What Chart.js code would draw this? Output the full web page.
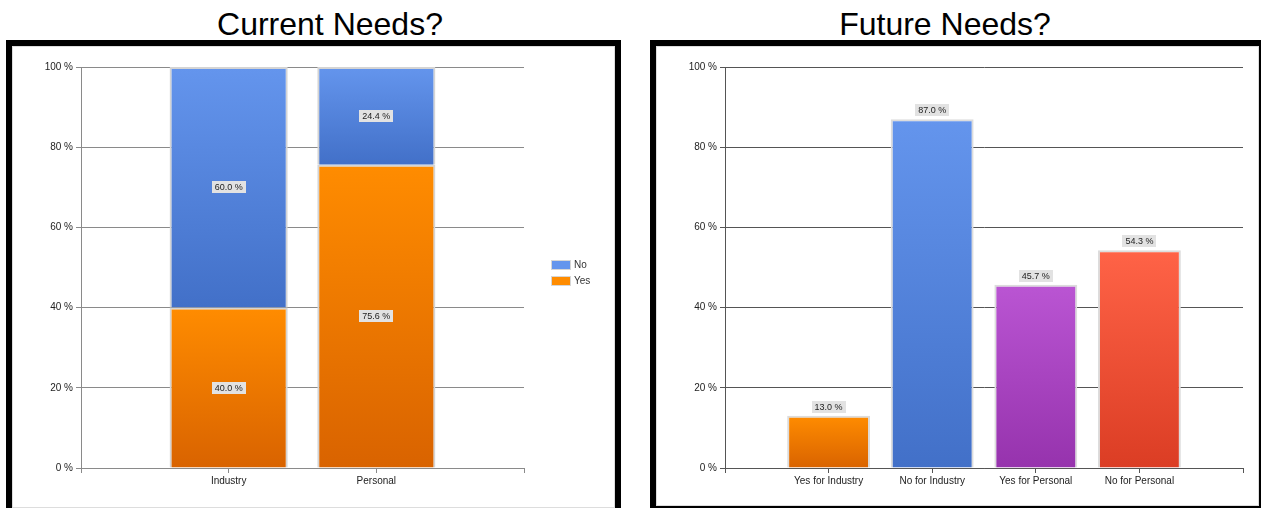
<!DOCTYPE html>
<html>
<head>
<meta charset="utf-8">
<script src="https://cdn.jsdelivr.net/npm/chart.js@4.4.0/dist/chart.umd.min.js"></script>
<style>
  html, body { margin: 0; padding: 0; background: #fff; overflow: hidden; }
  body { width: 1261px; height: 508px; position: relative; font-family: "Liberation Sans", Arial, sans-serif; }
  .title { position: absolute; top: 8px; font-size: 32px; line-height: 32px; color: #000; text-align: center; width: 400px; }
  .frame { position: absolute; border: 6px solid #000; box-sizing: border-box; }
  .inner { position: absolute; border: 1px solid #ddd; box-sizing: border-box; }
  canvas { position: absolute; }
</style>
</head>
<body>
<div class="title" style="left:130px">Current Needs?</div>
<div class="title" style="left:745px">Future Needs?</div>
<div class="frame" style="left:6px; top:40px; width:615px; height:480px"></div>
<div class="frame" style="left:650px; top:40px; width:615px; height:472px"></div>
<div class="inner" style="left:12px; top:46px; width:603px; height:462px"></div>
<div class="inner" style="left:656px; top:46px; width:603px; height:460px"></div>
<div style="position:absolute; left:12px; top:46px; width:603px; height:462px"><canvas id="current"></canvas></div>
<div style="position:absolute; left:656px; top:46px; width:603px; height:462px"><canvas id="future"></canvas></div>
<script>
// data
var currentCategories = ["Industry", "Personal"];
var yesValues = [40.0, 75.6];
var noValues = [60.0, 24.4];

var futureCategories = ["Yes for Industry", "No for Industry", "Yes for Personal", "No for Personal"];
var futureValues = [13.0, 87.0, 45.7, 54.3];

var yTicks = [0, 20, 40, 60, 80, 100];

// gradient pairs (top, bottom)
var orange = ["#ff8c00", "#d96300"];
var blue = ["#6495ed", "#4270c8"];
var purple = ["#ba55d3", "#9633ad"];
var red = ["#ff6347", "#db3d24"];
var futureColors = [orange, blue, purple, red];

Chart.defaults.font.family = "'Liberation Sans', Arial, sans-serif";
Chart.defaults.font.size = 10;
Chart.defaults.color = "#222";
Chart.defaults.animation = false;

function vgrad(chart, top, bottom, pair) {
    var g = chart.ctx.createLinearGradient(0, top, 0, bottom);
    g.addColorStop(0, pair[0]);
    g.addColorStop(1, pair[1]);
    return g;
}

// gradient for a bar piece going from value "from" to value "to"
function pieceColor(ctx, pair, from, to) {
    var chart = ctx.chart;
    var y = chart.scales.y;
    if (!chart.chartArea || !y || ctx.dataIndex == null) {
        return pair[0];
    }
    return vgrad(chart, y.getPixelForValue(to), y.getPixelForValue(from), pair);
}

function pct(v) {
    return v.toFixed(1) + " %";
}

// small gray boxed labels like the original
function drawBoxLabel(c, text, x, y) {
    c.font = "9px 'Liberation Sans', Arial, sans-serif";
    var w = c.measureText(text).width + 6;
    var h = 12;
    c.fillStyle = "#e2e2e2";
    c.fillRect(Math.round(x - w / 2), Math.round(y - h / 2), Math.round(w), h);
    c.fillStyle = "#222";
    c.textAlign = "center";
    c.textBaseline = "middle";
    c.fillText(text, x, y + 0.5);
}

var boxLabels = {
    id: "boxLabels",
    afterDatasetsDraw: function (chart, args, opts) {
        var c = chart.ctx;
        c.save();
        chart.data.datasets.forEach(function (ds, di) {
            var meta = chart.getDatasetMeta(di);
            meta.data.forEach(function (el, i) {
                var v = ds.data[i].y;
                var y = opts.inside ? (el.y + el.base) / 2 : el.y - 9;
                drawBoxLabel(c, pct(v), el.x, y);
            });
        });
        c.restore();
    }
};

var sideLegend = {
    id: "sideLegend",
    afterDraw: function (chart, args, opts) {
        if (!opts.show) return;
        var c = chart.ctx;
        c.save();
        var items = chart.data.datasets.slice().reverse();
        items.forEach(function (ds, k) {
            var y = opts.y + k * 16;
            c.fillStyle = "#d6d6d6";
            c.fillRect(opts.x - 1, y - 5, 20, 10);
            c.fillStyle = ds.legendColor;
            c.fillRect(opts.x, y - 4, 18, 8);
            c.fillStyle = "#333";
            c.font = "10px 'Liberation Sans', Arial, sans-serif";
            c.textAlign = "left";
            c.textBaseline = "middle";
            c.fillText(ds.label, opts.x + 22, y + 0.5);
        });
        c.restore();
    }
};

function xScale(categories, gridColor) {
    return {
        type: "linear",
        min: 0,
        max: categories.length + 1,
        offset: false,
        stacked: true,
        afterBuildTicks: function (s) {
            s.ticks = [];
            for (var i = 0; i <= categories.length + 1; i++) s.ticks.push({ value: i });
        },
        afterFit: function (s) { s.height = 40; },
        ticks: {
            autoSkip: false,
            maxRotation: 0,
            padding: 2,
            callback: function (v) { return categories[v - 1] || ""; }
        },
        grid: { drawOnChartArea: false, drawTicks: true, tickLength: 5, color: gridColor, offset: false },
        border: { color: gridColor, width: 1 }
    };
}

function yScale(gridColor, width) {
    return {
        min: 0,
        max: 100,
        stacked: true,
        afterBuildTicks: function (s) {
            s.ticks = yTicks.map(function (v) { return { value: v }; });
        },
        afterFit: function (s) { s.width = width; },
        ticks: {
            padding: 3,
            callback: function (v) { return v + " %"; }
        },
        grid: { color: gridColor, tickLength: 5, drawTicks: true },
        border: { color: gridColor, width: 1 }
    };
}

new Chart(document.getElementById("current"), {
    type: "bar",
    data: {
        datasets: [
            {
                label: "Yes",
                legendColor: orange[0],
                data: currentCategories.map(function (c, i) { return { x: i + 1, y: yesValues[i] }; }),
                backgroundColor: function (ctx) {
                    var i = ctx.dataIndex;
                    return pieceColor(ctx, orange, 0, yesValues[i]);
                },
                borderColor: "#d4d4d4",
                borderWidth: 2,
                barPercentage: 0.8,
                categoryPercentage: 1
            },
            {
                label: "No",
                legendColor: blue[0],
                data: currentCategories.map(function (c, i) { return { x: i + 1, y: noValues[i] }; }),
                backgroundColor: function (ctx) {
                    var i = ctx.dataIndex;
                    return pieceColor(ctx, blue, yesValues[i], yesValues[i] + noValues[i]);
                },
                borderColor: "#d4d4d4",
                borderWidth: 2,
                barPercentage: 0.8,
                categoryPercentage: 1
            }
        ]
    },
    options: {
        responsive: true,
        maintainAspectRatio: false,
        layout: { padding: { top: 21, right: 91, left: 0, bottom: 0 } },
        scales: {
            x: xScale(currentCategories, "#8a8a8a"),
            y: yScale("#8a8a8a", 69)
        },
        plugins: {
            legend: { display: false },
            tooltip: { enabled: false },
            boxLabels: { inside: true },
            sideLegend: { show: true, x: 540, y: 219 }
        }
    },
    plugins: [boxLabels, sideLegend]
});

new Chart(document.getElementById("future"), {
    type: "bar",
    data: {
        datasets: [
            {
                label: "Future",
                data: futureCategories.map(function (c, i) { return { x: i + 1, y: futureValues[i] }; }),
                backgroundColor: function (ctx) {
                    var i = ctx.dataIndex;
                    if (i == null) return blue[0];
                    return pieceColor(ctx, futureColors[i], 0, futureValues[i]);
                },
                borderColor: "#dcdcdc",
                borderWidth: 2,
                barPercentage: 0.8,
                categoryPercentage: 1
            }
        ]
    },
    options: {
        responsive: true,
        maintainAspectRatio: false,
        layout: { padding: { top: 21, right: 16, left: 0, bottom: 0 } },
        scales: {
            x: xScale(futureCategories, "#555"),
            y: yScale("#555", 69)
        },
        plugins: {
            legend: { display: false },
            tooltip: { enabled: false },
            boxLabels: { inside: false },
            sideLegend: { show: false }
        }
    },
    plugins: [boxLabels, sideLegend]
});
</script>
</body>
</html>
